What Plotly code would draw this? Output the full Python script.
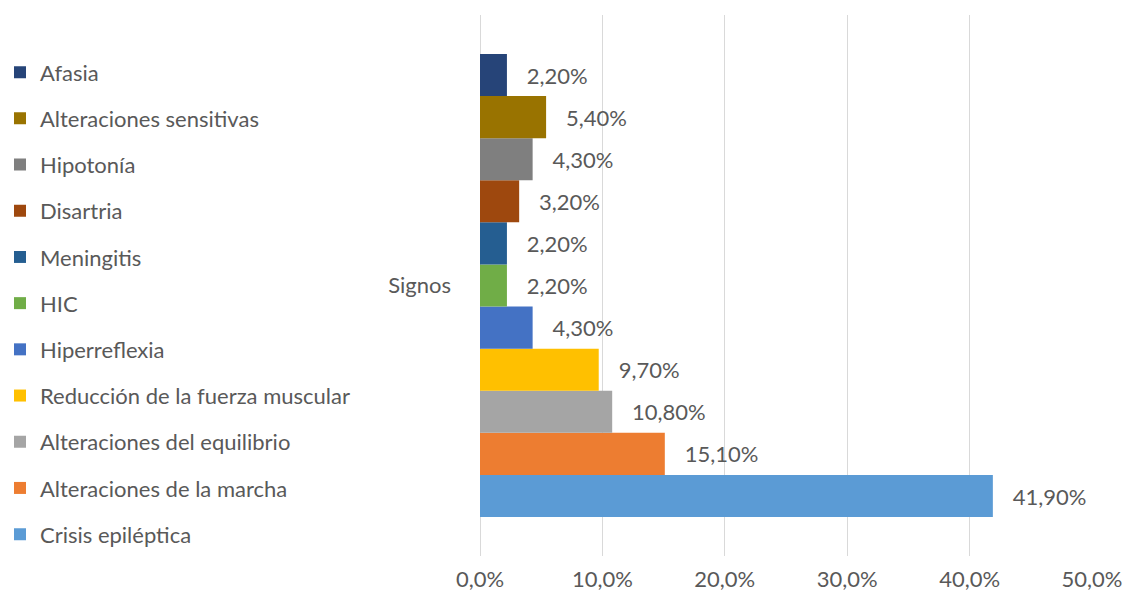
import plotly.graph_objects as go

# Signs, listed from bottom bar to top bar
signos = [
    "Crisis epiléptica",
    "Alteraciones de la marcha",
    "Alteraciones del equilibrio",
    "Reducción de la fuerza muscular",
    "Hiperreflexia",
    "HIC",
    "Meningitis",
    "Disartria",
    "Hipotonía",
    "Alteraciones sensitivas",
    "Afasia",
]
porcentajes = [41.9, 15.1, 10.8, 9.7, 4.3, 2.2, 2.2, 3.2, 4.3, 5.4, 2.2]
colores = [
    "#5B9BD5", "#ED7D31", "#A5A5A5", "#FFC000", "#4472C4", "#70AD47",
    "#255E91", "#9E480E", "#7F7F7F", "#997300", "#264478",
]
categoria = ["Signos"]

FONT = "Lato, 'Open Sans', sans-serif"
GRIS = "#595959"
TAM = 22

fig = go.Figure()
n = len(signos)
for i, (nombre, valor, color) in enumerate(zip(signos, porcentajes, colores)):
    fig.add_trace(go.Bar(
        name=nombre,
        y=categoria,
        x=[valor],
        orientation="h",
        marker=dict(color=color, line=dict(width=0)),
        texttemplate="   %{x:.2f}%",
        textposition="outside",
        textfont=dict(size=TAM, color=GRIS, family=FONT),
        cliponaxis=False,
        legendgroup=nombre,
        legendrank=n - i,  # top bar first in the legend
        hoverinfo="skip",
    ))

fig.update_layout(
    width=1136,
    height=604,
    margin=dict(l=480, r=44, t=15, b=46),
    paper_bgcolor="white",
    plot_bgcolor="white",
    barmode="group",
    bargap=0.144,
    bargroupgap=0,
    separators=",.",
    font=dict(family=FONT, size=TAM, color=GRIS),
    showlegend=True,
    legend=dict(
        traceorder="grouped",
        tracegroupgap=14.6,
        xref="container",
        yref="container",
        x=0.0,
        y=0.915,
        xanchor="left",
        yanchor="top",
        maxheight=590,
        font=dict(size=TAM, color=GRIS, family=FONT),
        bgcolor="rgba(0,0,0,0)",
    ),
    xaxis=dict(
        range=[0, 50],
        tick0=0,
        dtick=10,
        tickformat=".1f",
        ticksuffix="%",
        showgrid=True,
        gridcolor="#D9D9D9",
        gridwidth=1,
        zeroline=True,
        zerolinecolor="#D9D9D9",
        zerolinewidth=1,
        showline=False,
        ticks="",
        ticklabelstandoff=8,
        tickfont=dict(size=TAM, color=GRIS, family=FONT),
        fixedrange=True,
    ),
    yaxis=dict(
        type="category",
        showgrid=False,
        showline=False,
        zeroline=False,
        ticks="",
        ticklabelstandoff=28,
        tickfont=dict(size=TAM, color=GRIS, family=FONT),
        fixedrange=True,
    ),
)

fig.write_html("out.html")
